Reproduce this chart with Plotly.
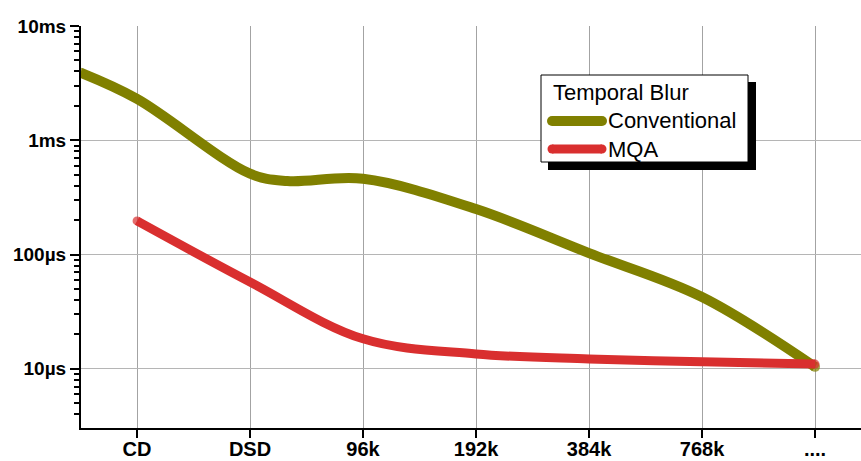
import plotly.graph_objects as go

# Sample-rate categories along the x axis
categories = ["CD", "DSD", "96k", "192k", "384k", "768k", "...."]
cat_pos = list(range(len(categories)))

# Temporal blur in seconds
conv_name = "Conventional"
conv_x = [-0.5, 0, 1, 1.33, 2, 3, 4, 5, 6]
conv_y = [3.9e-3, 2.3e-3, 5.1e-4, 4.4e-4, 4.6e-4, 2.5e-4, 1.03e-4, 4.25e-5, 1.04e-5]

mqa_name = "MQA"
mqa_x = [0, 1, 2, 3, 4, 5, 6]
mqa_y = [1.97e-4, 5.75e-5, 1.83e-5, 1.35e-5, 1.22e-5, 1.15e-5, 1.10e-5]

ytick_vals = [1e-5, 1e-4, 1e-3, 1e-2]
ytick_text = ["10µs", "100µs", "1ms", "10ms"]

OLIVE = "#808000"
RED = "#d92f2f"
FONT = "Liberation Sans, Arial, sans-serif"

W, H = 861, 461
M = dict(l=81, r=0, t=26, b=33)


def end_caps(n, size):
    # round the visible ends of a thick line with a dot on each end point
    return [size] + [0] * (n - 2) + [size]


fig = go.Figure()
fig.add_trace(go.Scatter(x=conv_x, y=conv_y, mode="lines+markers", name=conv_name,
                         line=dict(color=OLIVE, width=10, shape="spline", smoothing=1.0),
                         marker=dict(color=OLIVE, size=end_caps(len(conv_x), 10), line=dict(width=0))))
fig.add_trace(go.Scatter(x=mqa_x, y=mqa_y, mode="lines+markers", name=mqa_name,
                         line=dict(color=RED, width=9, shape="spline", smoothing=1.0),
                         marker=dict(color=RED, size=end_caps(len(mqa_x), 9), line=dict(width=0))))

minor_vals = [m * 10 ** e for e in range(-6, -1) for m in range(2, 10)]

fig.update_xaxes(
    range=[-0.496, 6.407], tickmode="array", tickvals=cat_pos, ticktext=categories,
    ticks="outside", ticklen=8, tickwidth=2, tickcolor="black", ticklabelstandoff=-6,
    showline=True, linecolor="black", linewidth=2, automargin=False,
    showgrid=True, gridcolor="#a3a3a3", gridwidth=1, zeroline=False,
    tickfont=dict(family=FONT, size=20, color="black", weight="bold"),
)
fig.update_yaxes(
    type="log", range=[-5.518, -2], tickmode="array", tickvals=ytick_vals, ticktext=ytick_text,
    ticks="outside", ticklen=9, tickwidth=2, tickcolor="black",
    showline=True, linecolor="black", linewidth=2, automargin=False,
    showgrid=True, gridcolor="#b5b5b5", gridwidth=1, zeroline=False,
    tickfont=dict(family=FONT, size=19, color="black", weight="bold"),
    minor=dict(tickmode="array", tickvals=minor_vals, ticks="outside", ticklen=5,
               tickwidth=2, tickcolor="black", showgrid=False),
)

# Legend box drawn by hand (pixel positions mapped to paper coordinates)
pw = W - M["l"] - M["r"]
ph = H - M["t"] - M["b"]


def px(x):
    return (x - M["l"]) / pw


def py(y):
    return (H - M["b"] - y) / ph


def swatch(color, width, yc, x0=552, x1=602):
    r = width / 2
    items = [dict(type="line", xref="paper", yref="paper", x0=px(x0), x1=px(x1), y0=py(yc), y1=py(yc),
                  line=dict(color=color, width=width), layer="above")]
    for xc in (x0, x1):
        items.append(dict(type="circle", xref="paper", yref="paper",
                          x0=px(xc - r), x1=px(xc + r), y0=py(yc + r), y1=py(yc - r),
                          fillcolor=color, line=dict(width=0), layer="above"))
    return items


shapes = [
    dict(type="rect", xref="paper", yref="paper", x0=px(548), x1=px(756), y0=py(170), y1=py(82),
         fillcolor="black", line=dict(width=0), layer="above"),
    dict(type="rect", xref="paper", yref="paper", x0=px(541), x1=px(748), y0=py(162), y1=py(75),
         fillcolor="white", line=dict(color="black", width=1), layer="above"),
] + swatch(OLIVE, 10, 121) + swatch(RED, 9, 149)

annotations = [
    dict(text="Temporal Blur", x=px(551), y=py(92), xref="paper", yref="paper",
         xanchor="left", yanchor="middle", showarrow=False,
         font=dict(family=FONT, size=22, color="black")),
    dict(text=conv_name, x=px(606), y=py(121), xref="paper", yref="paper",
         xanchor="left", yanchor="middle", showarrow=False,
         font=dict(family=FONT, size=22, color="black")),
    dict(text=mqa_name, x=px(606), y=py(149), xref="paper", yref="paper",
         xanchor="left", yanchor="middle", showarrow=False,
         font=dict(family=FONT, size=22, color="black")),
]

fig.update_layout(
    width=W, height=H, margin=M, showlegend=False,
    plot_bgcolor="white", paper_bgcolor="white",
    shapes=shapes, annotations=annotations,
)

fig.write_html("out.html")
